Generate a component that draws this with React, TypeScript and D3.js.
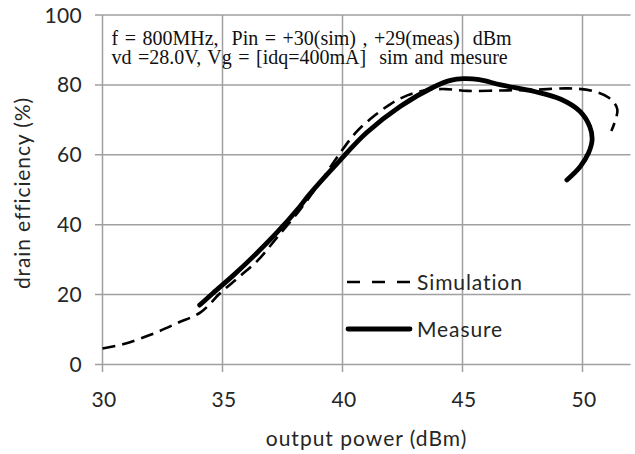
import React from "react";
import * as d3 from "d3";

const xTicks = [30, 35, 40, 45, 50];
const yTicks = [0, 20, 40, 60, 80, 100];

const simX = [30, 30.85, 32, 33.1, 34.1, 34.9, 35.7, 36.5, 37.3, 38.2, 39.1, 39.9, 40.6, 41.3, 42, 42.7, 43.5, 44.3, 45.2, 46.6, 48, 49.4, 50.4, 51.1, 51.45, 51.2];
const simY = [4.6, 5.8, 8.5, 11.8, 15, 20.4, 25.1, 30, 36.6, 44, 52.5, 60.5, 66.7, 71, 74.5, 77, 78.5, 78.8, 78.3, 78.4, 78.6, 79, 78.3, 76.3, 73, 66.8];

const measX = [34.05, 34.6, 35.45, 36.3, 37.3, 38.2, 38.6, 39.8, 41, 42.4, 43.8, 44.5, 45.05, 45.7, 46.6, 48, 49.1, 49.9, 50.3, 50.4, 50.25, 49.9, 49.35];
const measY = [17, 20.4, 25.5, 31, 38, 45, 48.5, 57.7, 66.3, 73.8, 79.4, 81.3, 81.8, 81.5, 80, 78.1, 75.9, 72.4, 68.1, 64.3, 60.5, 56.6, 52.8];

const annotation = [
  "f = 800MHz,  Pin = +30(sim) , +29(meas)  dBm",
  "vd =28.0V, Vg = [idq=400mA]  sim and mesure",
];
const legendLabels = ["Simulation", "Measure"];
const xTitle = "output power (dBm)";
const yTitle = "drain efficiency (%)";

const W = 635;
const H = 454;

export default function App() {
  const x = d3.scaleLinear().domain([30, 52]).range([102.5, 630.5]);
  const y = d3.scaleLinear().domain([0, 100]).range([364.5, 15]);
  const line = d3
    .line<[number, number]>()
    .x((d) => x(d[0]))
    .y((d) => y(d[1]))
    .curve(d3.curveCatmullRom.alpha(0.5));
  const simPts: [number, number][] = simX.map((v, i) => [v, simY[i]]);
  const measPts: [number, number][] = measX.map((v, i) => [v, measY[i]]);
  const sansFont = "Lato, 'Open Sans', sans-serif";
  const grid = "#a0a0a0";
  const txt = "#262626";
  return (
    <svg
      width={W}
      height={H}
      style={{ position: "absolute", left: 0, top: 0, background: "#fff" }}
    >
      <rect x={0} y={0} width={W} height={H} fill="#fff" />
      {yTicks.map((t) => (
        <line key={"h" + t} x1={95} x2={x(52)} y1={y(t)} y2={y(t)} stroke={grid} strokeWidth={1.5} />
      ))}
      {xTicks.map((t) => (
        <line key={"v" + t} x1={x(t)} x2={x(t)} y1={y(100)} y2={372} stroke={grid} strokeWidth={1.5} />
      ))}
      {yTicks.map((t) => (
        <text key={"yl" + t} x={82} y={y(t)} dy="0.36em" textAnchor="end" fontFamily={sansFont} fontSize={21} letterSpacing={0.3} fill={txt}>
          {t}
        </text>
      ))}
      {xTicks.map((t) => (
        <text key={"xl" + t} x={x(t) + 1.5} y={406.5} textAnchor="middle" fontFamily={sansFont} fontSize={21} letterSpacing={0.3} fill={txt}>
          {t}
        </text>
      ))}
      <text x={366.5} y={446} textAnchor="middle" fontFamily={sansFont} fontSize={21} letterSpacing={1} fill={txt}>
        {xTitle}
      </text>
      <text
        transform={`translate(30,193) rotate(-90)`}
        textAnchor="middle"
        fontFamily={sansFont}
        fontSize={21}
        letterSpacing={0.9}
        fill={txt}
      >
        {yTitle}
      </text>
      <text
        fontFamily="'Liberation Serif', 'Times New Roman', serif"
        fontSize={20}
        wordSpacing={1.5}
        fill="#111"
        style={{ whiteSpace: "pre" }}
      >
        {annotation.map((s, i) => (
          <tspan key={"a" + i} x={111.5} y={45 + i * 19}>
            {s}
          </tspan>
        ))}
      </text>
      <path d={line(simPts) || ""} fill="none" stroke="#000" strokeWidth={2.6} strokeDasharray="13,7" />
      <path d={line(measPts) || ""} fill="none" stroke="#000" strokeWidth={4.8} strokeLinejoin="round" strokeLinecap="round" />
      <line x1={347} x2={412} y1={282} y2={282} stroke="#000" strokeWidth={2.6} strokeDasharray="13,12" />
      <line x1={348} x2={410} y1={329} y2={329} stroke="#000" strokeWidth={4.8} strokeLinecap="round" />
      {legendLabels.map((s, i) => (
        <text key={"lg" + i} x={417} y={282 + i * 47} dy="0.36em" fontFamily={sansFont} fontSize={21} letterSpacing={0.9} fill={txt}>
          {s}
        </text>
      ))}
    </svg>
  );
}
